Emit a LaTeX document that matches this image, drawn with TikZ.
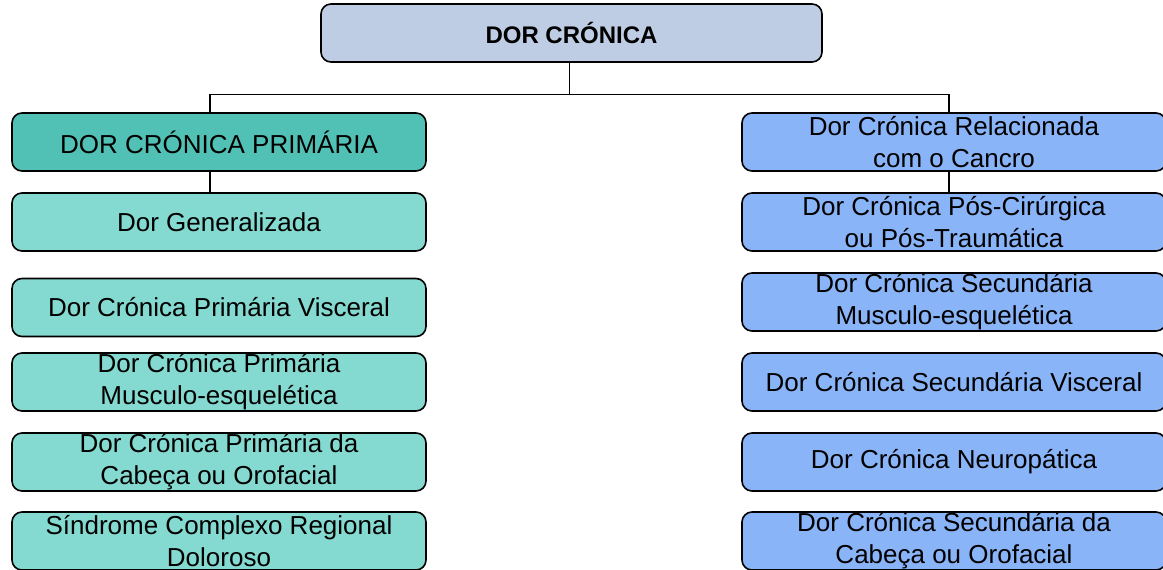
\documentclass[tikz,border=0pt]{standalone}
\usepackage{fontspec}
\setmainfont{Liberation Sans}
\usetikzlibrary{positioning}
\definecolor{topblue}{RGB}{191,205,228}
\definecolor{primteal}{RGB}{82,193,181}
\definecolor{subteal}{RGB}{132,218,208}
\definecolor{secblue}{RGB}{138,180,248}

\begin{document}
\begin{tikzpicture}[
        x=1pt,y=1pt,node distance=80pt,on grid,
        every node/.style={font=\fontsize{26}{32}\selectfont},
        box/.style={draw,line width=1.6pt,rounded corners=10pt,align=center,
                    minimum height=58pt,inner sep=0pt},
        leftbox/.style={box,minimum width=414pt,fill=subteal},
        rightbox/.style={box,minimum width=424pt,fill=secblue},
        link/.style={line width=1.2pt}
        ]
  \useasboundingbox (0,0) rectangle (1163,-570);

  \node[box,minimum width=501pt,fill=topblue,font=\fontsize{24}{30}\selectfont\bfseries] (dc) at (571.5,-33) {DOR CRÓNICA};

  % primaria
  \node[leftbox,fill=primteal] (prim) at (219,-142)           {DOR CRÓNICA PRIMÁRIA};
  \node[leftbox]               (gen)   [below=of prim]         {Dor Generalizada};
  \node[leftbox]               (pvisc) [below=85.5pt of gen]   {Dor Crónica Primária Visceral};
  \node[leftbox]               (pmus)  [below=74.5pt of pvisc] {Dor Crónica Primária\\Musculo-esquelética};
  \node[leftbox]               (pcab)  [below=of pmus]         {Dor Crónica Primária da\\Cabeça ou Orofacial};
  \node[leftbox]               (sind)  [below=79pt of pcab]    {Síndrome Complexo Regional\\Doloroso};

  % secundaria
  \node[rightbox] (canc) at (954,-142)         {Dor Crónica Relacionada\\com o Cancro};
  \node[rightbox] (pcir)  [below=of canc]      {Dor Crónica Pós-Cirúrgica\\ou Pós-Traumática};
  \node[rightbox] (smus)  [below=of pcir]      {Dor Crónica Secundária\\Musculo-esquelética};
  \node[rightbox] (svisc) [below=of smus]      {Dor Crónica Secundária Visceral};
  \node[rightbox] (neur)  [below=of svisc]     {Dor Crónica Neuropática};
  \node[rightbox] (scab)  [below=79pt of neur] {Dor Crónica Secundária da\\Cabeça ou Orofacial};

  \draw[link] ([xshift=-2pt]dc.south) -- ++(0,-32) coordinate (bus);
  \draw[link] (bus) -| ([xshift=-9pt]prim.north);
  \draw[link] (bus) -| ([xshift=-5pt]canc.north);
  \draw[link] ([xshift=-9pt]prim.south) -- ([xshift=-9pt]gen.north);
  \draw[link] ([xshift=-5pt]canc.south) -- ([xshift=-5pt]pcir.north);
\end{tikzpicture}
\end{document}
